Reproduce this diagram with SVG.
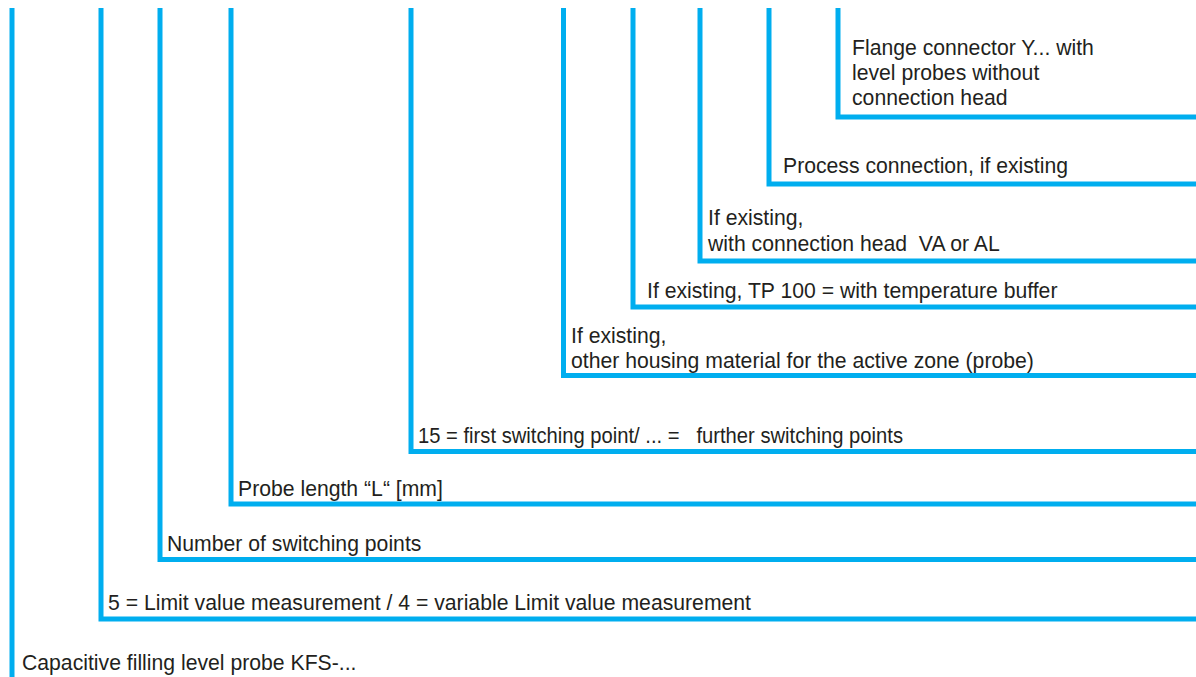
<svg xmlns="http://www.w3.org/2000/svg" width="1196" height="677" viewBox="0 0 1196 677">
<style>
.ln{fill:none;stroke:#00AEEF;stroke-width:5;stroke-linejoin:miter;stroke-linecap:butt}
.t{font-family:"Liberation Sans",Arial,sans-serif;font-size:21.2px;fill:#231F20;white-space:pre}
</style>
<rect width="1196" height="677" fill="#fff"/>
<g id="connectors">
<path class="ln" d="M12,8V677"/>
<path class="ln" d="M101,8V619H1196"/>
<path class="ln" d="M160,8V559.5H1196"/>
<path class="ln" d="M231,8V504H1196"/>
<path class="ln" d="M411,8V451.5H1196"/>
<path class="ln" d="M563.5,8V375.5H1196"/>
<path class="ln" d="M633,8V307H1196"/>
<path class="ln" d="M700,8V261H1196"/>
<path class="ln" d="M769,8V184H1196"/>
<path class="ln" d="M838,8V117H1196"/>
</g>
<g id="n-kfs"><text class="t" x="22" y="670">Capacitive filling level probe KFS-...</text></g>
<g id="n-limit"><text class="t" x="108" y="610">5 = Limit value measurement / 4 = variable Limit value measurement</text></g>
<g id="n-number"><text class="t" x="167" y="551">Number of switching points</text></g>
<g id="n-length"><text class="t" x="238" y="496">Probe length “L“ [mm]</text></g>
<g id="n-switch"><text class="t" x="418" y="443" textLength="485" lengthAdjust="spacingAndGlyphs">15 = first switching point/ ... =   further switching points</text></g>
<g id="n-housing"><text class="t" x="571" y="343">If existing,</text><text class="t" x="571" y="368">other housing material for the active zone (probe)</text></g>
<g id="n-tp"><text class="t" x="647" y="298">If existing, TP 100 = with temperature buffer</text></g>
<g id="n-head"><text class="t" x="708" y="225">If existing,</text><text class="t" x="708" y="250.5">with connection head  VA or AL</text></g>
<g id="n-process"><text class="t" x="783" y="173">Process connection, if existing</text></g>
<g id="n-flange"><text class="t" x="852" y="55">Flange connector Y... with</text><text class="t" x="852" y="80">level probes without</text><text class="t" x="852" y="105">connection head</text></g>
</svg>
